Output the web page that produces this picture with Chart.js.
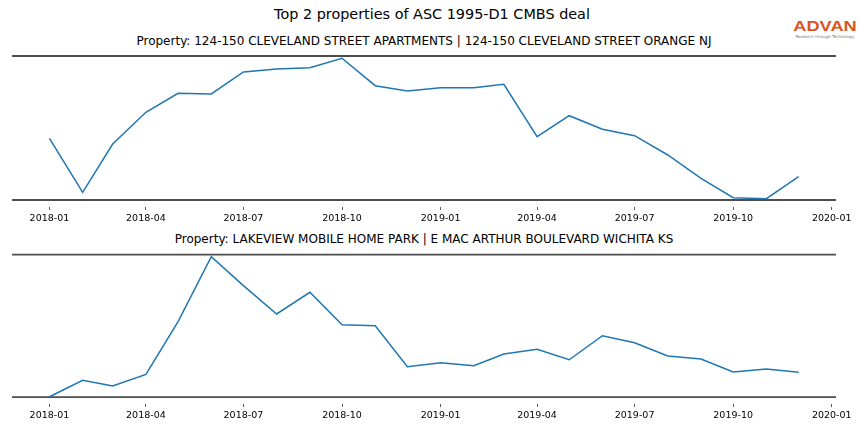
<!DOCTYPE html>
<html lang="en">
<head>
  <meta charset="UTF-8">
  <title>Top 2 properties of ASC 1995-D1 CMBS deal</title>
  <style>
    body { margin: 0; background: #fff; font-family: 'DejaVu Sans', sans-serif; }
    #wrap { position: relative; width: 864px; height: 432px; overflow: hidden; }
    canvas { position: absolute; left: 0; }
    .title { position: absolute; left: 0; width: 848px; text-align: center; color: #000; white-space: nowrap; }
    #mainTitle { top: 6px; width: 864px; font-size: 14.4px; }
    #title1 { top: 34px; font-size: 12px; }
    #title2 { top: 232px; font-size: 12px; }
    #logo { position: absolute; left: 791px; top: 18px; width: 68px; text-align: center; }
    #logo .brand { color: #e0521f; font-family: 'Liberation Sans', sans-serif; font-weight: bold; font-size: 14px; line-height: 16px;
                   transform: scaleX(1.3); transform-origin: center; }
    #logo .tag { color: #777; font-size: 4px; line-height: 5px; }
  </style>
</head>
<body>
  <div id="wrap">
    <div id="mainTitle" class="title">Top 2 properties of ASC 1995-D1 CMBS deal</div>
    <div id="title1" class="title">Property: 124-150 CLEVELAND STREET APARTMENTS | 124-150 CLEVELAND STREET ORANGE NJ</div>
    <div id="title2" class="title">Property: LAKEVIEW MOBILE HOME PARK | E MAC ARTHUR BOULEVARD WICHITA KS</div>
    <div id="logo"><div class="brand">ADVAN</div><div class="tag">Research through Technology</div></div>
    <canvas id="chart1" width="864" height="230" style="top:0px"></canvas>
    <canvas id="chart2" width="864" height="202" style="top:230px"></canvas>
  </div>

  <script src="https://cdn.jsdelivr.net/npm/chart.js"></script>
  <script>
    // monthly observations
    const months = ['2018-01', '2018-02', '2018-03', '2018-04', '2018-05', '2018-06',
                    '2018-07', '2018-08', '2018-09', '2018-10', '2018-11', '2018-12',
                    '2019-01', '2019-02', '2019-03', '2019-04', '2019-05', '2019-06',
                    '2019-07', '2019-08', '2019-09', '2019-10', '2019-11', '2019-12'];

    const cleveland = [61.7, 7.7, 56, 87.7, 106.7, 106, 128, 131, 132.3, 141.7, 114.3, 109,
                       112.3, 112.3, 115.7, 63.3, 84.3, 70.7, 64.3, 45, 21.7, 2.3, 1.3, 23.3];
    const lakeview = [0.3, 16.7, 11, 22.7, 75.3, 140.3, 111.3, 83, 104.7, 72.3, 71.3, 30.3,
                      34.3, 31.3, 43, 47.7, 37.3, 61.3, 54.3, 41, 38, 25, 28, 24.7];

    // horizontal reference lines (low, high) for each panel
    const clevelandLines = [0, 144];
    const lakeviewLines = [0, 142.3];

    const tickLabels = ['2018-01', '2018-04', '2018-07', '2018-10', '2019-01',
                        '2019-04', '2019-07', '2019-10', '2020-01'];

    const DAY = 86400000;
    const base = Date.UTC(2018, 0, 1);
    function dayOf(label) {
      const [y, m] = label.split('-').map(Number);
      return (Date.UTC(y, m - 1, 1) - base) / DAY;
    }

    const xs = months.map(dayOf);
    const span = xs[xs.length - 1] - xs[0];
    const xMin = xs[0] - 0.05 * span;
    const xMax = xs[xs.length - 1] + 0.05 * span;

    function makeChart(id, values, lines, pad) {
      const lo = lines[0], hi = lines[1];
      const m = 0.045 * (hi - lo);
      const hline = v => ({
        data: [{ x: xMin, y: v }, { x: xMax, y: v }],
        borderColor: '#4d4d4d',
        borderWidth: 1.8,
        pointRadius: 0
      });
      return new Chart(document.getElementById(id).getContext('2d'), {
        type: 'line',
        data: {
          datasets: [
            {
              data: values.map((v, i) => ({ x: xs[i], y: v })),
              borderColor: '#1f77b4',
              borderWidth: 1.5,
              pointRadius: 0,
              tension: 0
            },
            hline(lo),
            hline(hi)
          ]
        },
        options: {
          responsive: false,
          animation: false,
          layout: { padding: pad },
          plugins: { legend: { display: false }, tooltip: { enabled: false } },
          scales: {
            x: {
              type: 'linear',
              min: xMin,
              max: xMax,
              afterBuildTicks: scale => {
                scale.ticks = tickLabels.map(l => ({ value: dayOf(l) }));
              },
              afterFit: scale => { scale.height = 20; },
              ticks: {
                autoSkip: false,
                maxRotation: 0,
                padding: 3,
                color: '#000',
                font: { family: 'DejaVu Sans', size: 9.5 },
                callback: (v, i) => tickLabels[i]
              },
              grid: { display: true, drawOnChartArea: false, drawTicks: true, tickLength: 3.5, tickColor: '#333', lineWidth: 0.8 },
              border: { display: false }
            },
            y: { display: false, min: lo - m, max: hi + m }
          }
        }
      });
    }

    makeChart('chart1', cleveland, clevelandLines, { top: 49.5, left: 12, right: 28, bottom: 3.5 });
    makeChart('chart2', lakeview, lakeviewLines, { top: 18.2, left: 12, right: 28, bottom: 8.5 });
  </script>
</body>
</html>
